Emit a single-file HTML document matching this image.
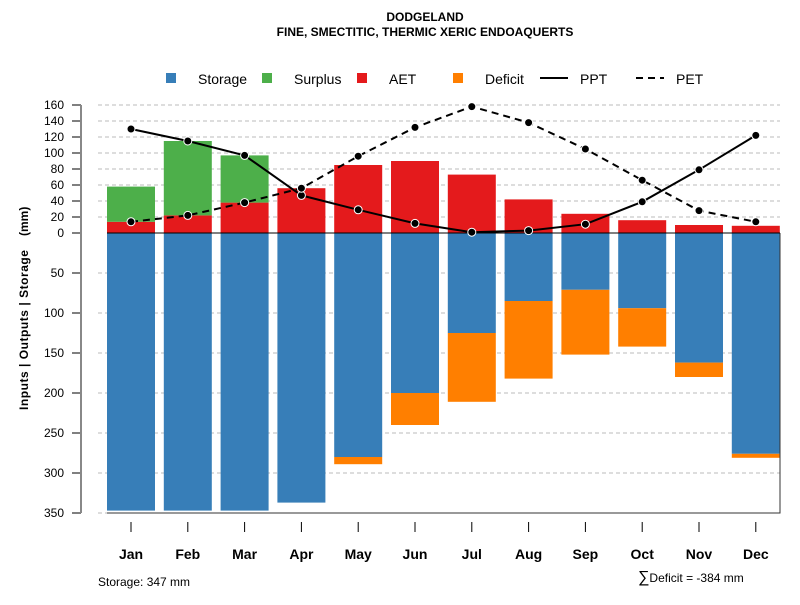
<!DOCTYPE html>
<html><head><meta charset="utf-8"><style>body{margin:0;background:#fff}svg{font-family:"Liberation Sans",sans-serif}</style></head>
<body>
<svg id="c" width="800" height="600" xmlns="http://www.w3.org/2000/svg">
<text x="425" y="21" text-anchor="middle" font-size="12" font-weight="bold">DODGELAND</text>
<text x="425" y="36" text-anchor="middle" font-size="12" font-weight="bold">FINE, SMECTITIC, THERMIC XERIC ENDOAQUERTS</text>
<g font-size="14">
<rect x="166" y="73" width="10" height="10" fill="#377eb8"/><text x="198" y="84">Storage</text>
<rect x="262" y="73" width="10" height="10" fill="#4daf4a"/><text x="294" y="84">Surplus</text>
<rect x="357" y="73" width="10" height="10" fill="#e41a1c"/><text x="389" y="84">AET</text>
<rect x="453" y="73" width="10" height="10" fill="#ff7f00"/><text x="485" y="84">Deficit</text>
<line x1="540" y1="78" x2="568" y2="78" stroke="#000" stroke-width="2"/><text x="580" y="84">PPT</text>
<line x1="636" y1="78" x2="664" y2="78" stroke="#000" stroke-width="2" stroke-dasharray="7,5"/><text x="676" y="84">PET</text>
</g>
<text transform="translate(28,410) rotate(-90)" font-size="12" font-weight="bold" textLength="160">Inputs | Outputs | Storage</text>
<text transform="translate(28,236) rotate(-90)" font-size="12" font-weight="bold">(mm)</text>
<g id="grid"></g><g id="bars"></g><g id="axes"></g><g id="lines"></g>
<text x="98" y="586" font-size="12">Storage: 347 mm</text>
<text x="638" y="582" font-size="12"><tspan font-size="16">∑</tspan>Deficit = -384 mm</text>
</svg>
<script>
const months=["Jan","Feb","Mar","Apr","May","Jun","Jul","Aug","Sep","Oct","Nov","Dec"];
const aet=[14,22,38,56,85,90,73,42,24,16,10,9];
const surplus=[44,93,59,0,0,0,0,0,0,0,0,0];
const storage=[347,347,347,337,280,200,125,85,71,94,162,276];
const deficit=[0,0,0,0,9,40,86,97,81,48,18,5];
const ppt=[130,115,97,47,29,12,1,3,11,39,79,122];
const pet=[14,22,38,56,96,132,158,138,105,66,28,14];
const upTicks=[0,20,40,60,80,100,120,140,160];
const downTicks=[50,100,150,200,250,300,350];
const NS="http://www.w3.org/2000/svg";
const y0=233,k=0.8;
const yUp=v=>y0-v*k, yDn=v=>y0+v*k;
const xC=i=>131+i*56.8, bw=48;
function mk(p,t,a){const e=document.createElementNS(NS,t);for(const n in a)e.setAttribute(n,a[n]);document.getElementById(p).appendChild(e);return e;}
upTicks.forEach(v=>{
 if(v>0){const g=mk('grid','line',{x1:98,x2:780,y1:yUp(v),y2:yUp(v),stroke:'#bbb','stroke-dasharray':'4,3'});
 
 }
 const t=mk('axes','line',{x1:72,x2:81,y1:yUp(v),y2:yUp(v),stroke:'#000'});
 
 
 const l=mk('axes','text',{x:64,y:yUp(v)+4,'text-anchor':'end','font-size':12});l.textContent=v;
 
 
});
downTicks.forEach(v=>{
 const g=mk('grid','line',{x1:98,x2:780,y1:yDn(v),y2:yDn(v),stroke:'#bbb','stroke-dasharray':'4,3'});
 
 
 const t=mk('axes','line',{x1:72,x2:81,y1:yDn(v),y2:yDn(v),stroke:'#000'});
 
 
 const l=mk('axes','text',{x:64,y:yDn(v)+4,'text-anchor':'end','font-size':12});l.textContent=v;
 
 
});
const ax=mk('axes','line',{x1:81,x2:81,y1:yUp(160),y2:yDn(350),stroke:'#888','stroke-width':2});


months.forEach((m,i)=>{
 const x=xC(i)-bw/2;
 const s=mk('bars','rect',{x:x,y:y0,width:bw,height:storage[i]*k,fill:'#377eb8'});
 
 
 if(deficit[i]>0){const d=mk('bars','rect',{x:x,y:yDn(storage[i]),width:bw,height:deficit[i]*k,fill:'#ff7f00'});
 
 }
 const a=mk('bars','rect',{x:x,y:yUp(aet[i]),width:bw,height:aet[i]*k,fill:'#e41a1c'});
 
 
 if(surplus[i]>0){const g=mk('bars','rect',{x:x,y:yUp(aet[i]+surplus[i]),width:bw,height:surplus[i]*k,fill:'#4daf4a'});
 
 }
 const t=mk('axes','line',{x1:xC(i),x2:xC(i),y1:522,y2:532,stroke:'#000'});
 
 
 const l=mk('axes','text',{x:xC(i),y:559,'text-anchor':'middle','font-size':14,'font-weight':'bold'});l.textContent=m;
 
 
});
const fr=mk('bars','polyline',{points:`${xC(0)-bw/2},${yDn(350)} 780,${yDn(350)} 780,${y0}`,fill:'none',stroke:'#333'});


const z=mk('bars','line',{x1:xC(0)-bw/2,x2:780,y1:y0,y2:y0,stroke:'#000'});


function series(vals,name,dash){
 const pts=vals.map((v,i)=>xC(i)+','+yUp(v)).join(' ');
 const a={points:pts,fill:'none',stroke:'#000','stroke-width':2};if(dash)a['stroke-dasharray']='7,5';
 const p=mk('lines','polyline',a);
 
 
 vals.forEach((v,i)=>{const c=mk('lines','circle',{cx:xC(i),cy:yUp(v),r:4,fill:'#000',stroke:'#fff','stroke-width':1});
 
 });
}
series(ppt,'ppt',false);series(pet,'pet',true);
</script>
</body></html>
